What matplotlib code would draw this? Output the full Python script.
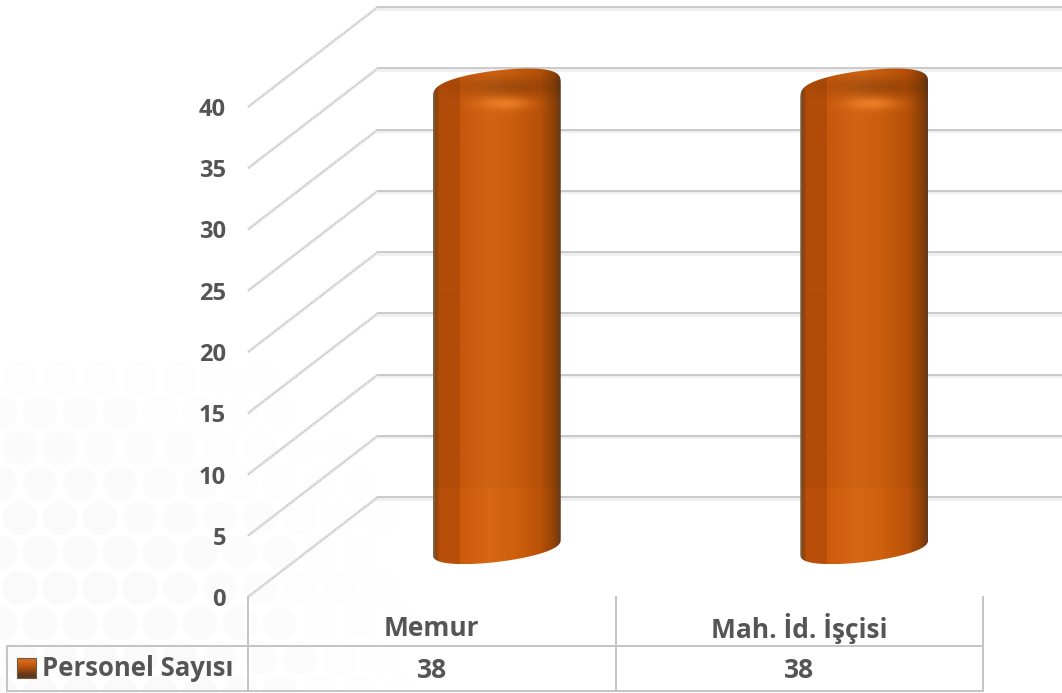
import numpy as np
import matplotlib
matplotlib.use('Agg')
import matplotlib.pyplot as plt
from matplotlib.path import Path
from matplotlib.patches import Circle, Rectangle
from matplotlib.transforms import Affine2D

categories = ['Memur', 'Mah. İd. İşçisi']
personel = [38, 38]
series_name = 'Personel Sayısı'
y_ticks = [0, 5, 10, 15, 20, 25, 30, 35, 40]

W, H = 1062, 693
X0, XU = 248, 367.5   # px of x=0, px per category
Y0, YU = 597, 12.25   # px of y=0, px per unit
DEPTH_X, DEPTH_Y = 130, 100
TEXT = '#555555'
FONT = 'Open Sans'

def dx(px):
    return (px - X0) / XU

def dy(py):
    return (Y0 - py) / YU

fig = plt.figure(figsize=(W / 100, H / 100), dpi=100)
ax = fig.add_axes([0, 0, 1, 1])
ax.set_xlim(dx(0), dx(W))
ax.set_ylim(dy(H), dy(0))
ax.axis('off')

# faint circle pattern of the slide background, lower left
to_px = Affine2D().scale(1 / W, -1 / H).translate(0, 1) + fig.transFigure
for row in range(10):
    for col in range(14):
        cx = col * 40 + (row % 2) * 20
        cy = 693 - row * 35
        a = 1 - np.hypot(cx, 693 - cy) / 420
        if a > 0:
            ax.add_patch(Circle((cx, cy), 17, color='#fafafa', alpha=min(a * 1.6, 0.9), lw=0,
                                transform=to_px, zorder=0))

# walls
back_dx = DEPTH_X / XU
back_dy = DEPTH_Y / YU
for t in y_ticks:
    ax.plot([0, back_dx], [t, t + back_dy], color='#e6e6e6', lw=2.2, zorder=1, solid_capstyle='butt')
    ax.plot([0, back_dx], [t, t + back_dy], color='#bcbcbc', lw=0.9, ls=(0, (1, 1.2)), zorder=1)
    ax.plot([back_dx, dx(W + 5)], [t + back_dy - 0.14, t + back_dy - 0.14], color='#efefef', lw=2.2, zorder=1)
    ax.plot([back_dx, dx(W + 5)], [t + back_dy, t + back_dy], color='#bcbcbc', lw=1.1, zorder=1)
    ax.text(dx(226), dy(Y0 - t * YU + 3), str(t), ha='right', va='center', fontsize=17, color=TEXT,
            family=FONT, weight='bold', zorder=5)

# cylinder shading
stops_x = [0.0, 0.02, 0.05, 0.205, 0.21, 0.45, 0.62, 0.84, 0.95, 1.0]
stops_rgb = np.array([[128, 100, 70], [132, 66, 14], [180, 76, 8], [178, 76, 10], [198, 88, 12],
                      [208, 100, 20], [202, 94, 14], [182, 80, 8], [140, 64, 6], [100, 56, 24]]) / 255

def cylinder_image(w, h):
    xs = np.linspace(0, 1, w)[None, :, None]
    row = np.stack([np.interp(xs[0, :, 0], stops_x, stops_rgb[:, i]) for i in range(3)], axis=1)
    img = np.repeat(row[None, :, :], h, axis=0)
    ys = np.arange(h)[:, None, None]
    # darker ring and bright spot of the top face
    ring = np.exp(-((ys - 18) / 10) ** 2) * np.exp(-((xs - 0.6) / 0.4) ** 2)
    spot = np.exp(-((ys - 35) / 6) ** 2) * np.exp(-((xs - 0.56) / 0.2) ** 2)
    img = img * (1 - 0.2 * ring)
    img = img + spot * (np.array([245, 135, 45]) / 255 - img) * 0.75
    # slightly lighter lower part
    img = img * (1 + 0.03 * (ys > 0.846 * h))
    return np.clip(img, 0, 1)

A, B_LOW, B_UP, TILT = 64, 15, 21, np.radians(6.7)
for i, v in enumerate(personel):
    cx = X0 + XU * (i + 0.5) + DEPTH_X / 2
    base = Y0 - DEPTH_Y / 2
    top = base - v * YU + 10
    tt = np.linspace(0, np.pi, 60)
    # front edge of the bottom, then back edge of the top
    low_x = cx - A * np.cos(tt)
    low_y = base + B_LOW * np.sin(tt) ** 0.8 + A * np.cos(tt) * np.sin(TILT)
    up_x = cx + A * np.cos(tt)
    up_y = top - B_UP * np.sin(tt) ** 0.6 - A * np.cos(tt) * np.sin(TILT)
    px_x = np.r_[low_x, up_x]
    px_y = np.r_[low_y, up_y]
    verts = np.c_[dx(px_x), dy(px_y)]
    outline = Path(np.r_[verts, verts[:1]], closed=True)
    x0, x1 = px_x.min(), px_x.max()
    y0, y1 = px_y.min(), px_y.max()
    im = ax.imshow(cylinder_image(int(x1 - x0), int(y1 - y0)),
                   extent=(dx(x0), dx(x1), dy(y1), dy(y0)),
                   aspect='auto', origin='upper', zorder=3, interpolation='bilinear')
    im.set_clip_path(outline, transform=ax.transData)

# data table
GRID = '#c4c4c4'
ax.plot([dx(8), dx(983)], [dy(646), dy(646)], color=GRID, lw=1.4, zorder=4)
ax.plot([dx(8), dx(983)], [dy(691), dy(691)], color=GRID, lw=1.4, zorder=4)
ax.plot([dx(7), dx(7)], [dy(646), dy(691)], color=GRID, lw=1.4, zorder=4)
for k in range(len(categories) + 1):
    ax.plot([k, k], [dy(597), dy(691)], color=GRID, lw=1.4, zorder=4)
for i, name in enumerate(categories):
    ax.text(i + 0.5, dy(628), name, ha='center', va='center', fontsize=19, color=TEXT,
            family=FONT, weight='bold', zorder=5)
    ax.text(i + 0.5, dy(670), str(personel[i]), ha='center', va='center', fontsize=19, color=TEXT,
            family=FONT, weight='bold', zorder=5)
ax.text(dx(42), dy(669), series_name, ha='left', va='center', fontsize=18.5, color=TEXT,
        family=FONT, weight='bold', zorder=5)

# legend key
key = np.array([[[214, 104, 24]], [[176, 78, 14]], [[96, 56, 30]]]) / 255
ax.imshow(key, extent=(dx(17), dx(36), dy(678), dy(658)), aspect='auto', origin='upper',
          zorder=5, interpolation='bilinear')
ax.add_patch(Rectangle((dx(17), dy(678)), 19 / XU, 20 / YU, fill=False, edgecolor='#6b5a48', lw=0.8, zorder=6))

ax.set_xlim(dx(0), dx(W))
ax.set_ylim(dy(H), dy(0))
fig.savefig('out.png', dpi=100)
